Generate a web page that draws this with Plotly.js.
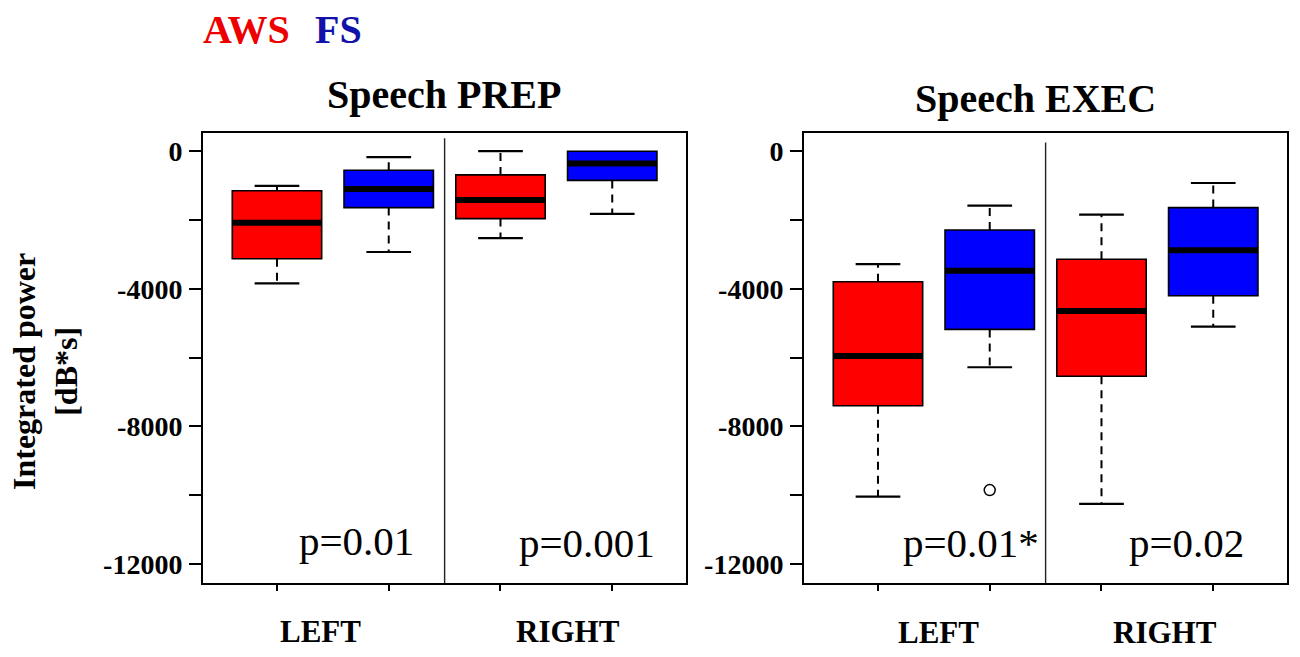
<!DOCTYPE html>
<html>
<head>
<meta charset="utf-8">
<script src="https://cdn.plot.ly/plotly-3.0.1.min.js"></script>
<style>
    html, body { margin: 0; padding: 0; background: #ffffff; }
    #chart { width: 1300px; height: 657px; }
</style>
</head>
<body>
<div id="chart"></div>
<script>
"use strict";

// positions on the x axis: LEFT AWS, LEFT FS, RIGHT AWS, RIGHT FS
var hemispheres = ["LEFT", "RIGHT"];
var awsPos = [0, 2];
var fsPos = [1, 3];

// Speech PREP
var prepAwsLower = [-3840, -2530];
var prepAwsQ1 = [-3125, -1960];
var prepAwsMedian = [-2080, -1420];
var prepAwsQ3 = [-1150, -690];
var prepAwsUpper = [-1010, 0];

var prepFsLower = [-2930, -1820];
var prepFsQ1 = [-1640, -850];
var prepFsMedian = [-1100, -360];
var prepFsQ3 = [-555, 0];
var prepFsUpper = [-170, 0];

// Speech EXEC
var execAwsLower = [-10040, -10250];
var execAwsQ1 = [-7400, -6540];
var execAwsMedian = [-5950, -4645];
var execAwsQ3 = [-3795, -3140];
var execAwsUpper = [-3280, -1845];

var execFsLower = [-6280, -5100];
var execFsQ1 = [-5180, -4200];
var execFsMedian = [-3475, -2880];
var execFsQ3 = [-2290, -1640];
var execFsUpper = [-1585, -925];

var execOutlierX = [1];
var execOutlierY = [-9850];

var prepPValues = ["p=0.01", "p=0.001"];
var execPValues = ["p=0.01*", "p=0.02"];

var yTickVals = [0, -2000, -4000, -6000, -8000, -10000, -12000];
var yTickText = ["0", "", "-4000", "", "-8000", "", "-12000"];

var awsColor = "#ff0000";
var fsColor = "#0000ff";
var boxHalf = 0.4;
var capHalf = 0.2;

// the box itself, whiskers are drawn separately because they are dashed
function BoxTrace(pos, q1, median, q3, color, xa, ya) {
    return {
        type: "box",
        x: pos,
        q1: q1,
        median: median,
        q3: q3,
        lowerfence: q1,
        upperfence: q3,
        width: boxHalf * 2,
        whiskerwidth: 0,
        fillcolor: color,
        line: { color: "#000000", width: 1.6 },
        xaxis: xa,
        yaxis: ya,
        hoverinfo: "skip",
        showlegend: false
    };
}

function WhiskerTraces(pos, lower, q1, q3, upper, xa, ya) {
    var wx = [], wy = [], cx = [], cy = [];
    for (var i = 0; i < pos.length; i++) {
        if (upper[i] > q3[i]) {
            wx.push(pos[i], pos[i], null);
            wy.push(q3[i], upper[i], null);
        }
        if (lower[i] < q1[i]) {
            wx.push(pos[i], pos[i], null);
            wy.push(q1[i], lower[i], null);
        }
        if (upper[i] > q3[i]) {
            cx.push(pos[i] - capHalf, pos[i] + capHalf, null);
            cy.push(upper[i], upper[i], null);
        }
        cx.push(pos[i] - capHalf, pos[i] + capHalf, null);
        cy.push(lower[i], lower[i], null);
    }
    return [
        {
            type: "scatter", mode: "lines", x: wx, y: wy, xaxis: xa, yaxis: ya,
            line: { color: "#000000", width: 2, dash: "8px,6px" },
            hoverinfo: "skip", showlegend: false
        },
        {
            type: "scatter", mode: "lines", x: cx, y: cy, xaxis: xa, yaxis: ya,
            line: { color: "#000000", width: 2.2 },
            hoverinfo: "skip", showlegend: false
        }
    ];
}

function MedianTrace(pos, median, xa, ya) {
    var mx = [], my = [];
    for (var i = 0; i < pos.length; i++) {
        mx.push(pos[i] - boxHalf, pos[i] + boxHalf, null);
        my.push(median[i], median[i], null);
    }
    return {
        type: "scatter", mode: "lines", x: mx, y: my, xaxis: xa, yaxis: ya,
        line: { color: "#000000", width: 6 },
        hoverinfo: "skip", showlegend: false
    };
}

var data = [];
data = data.concat(WhiskerTraces(awsPos, prepAwsLower, prepAwsQ1, prepAwsQ3, prepAwsUpper, "x", "y"));
data = data.concat(WhiskerTraces(fsPos, prepFsLower, prepFsQ1, prepFsQ3, prepFsUpper, "x", "y"));
data = data.concat(WhiskerTraces(awsPos, execAwsLower, execAwsQ1, execAwsQ3, execAwsUpper, "x2", "y2"));
data = data.concat(WhiskerTraces(fsPos, execFsLower, execFsQ1, execFsQ3, execFsUpper, "x2", "y2"));
data.push(BoxTrace(awsPos, prepAwsQ1, prepAwsMedian, prepAwsQ3, awsColor, "x", "y"));
data.push(BoxTrace(fsPos, prepFsQ1, prepFsMedian, prepFsQ3, fsColor, "x", "y"));
data.push(BoxTrace(awsPos, execAwsQ1, execAwsMedian, execAwsQ3, awsColor, "x2", "y2"));
data.push(BoxTrace(fsPos, execFsQ1, execFsMedian, execFsQ3, fsColor, "x2", "y2"));
data.push(MedianTrace(awsPos, prepAwsMedian, "x", "y"));
data.push(MedianTrace(fsPos, prepFsMedian, "x", "y"));
data.push(MedianTrace(awsPos, execAwsMedian, "x2", "y2"));
data.push(MedianTrace(fsPos, execFsMedian, "x2", "y2"));

// outlier of FS, left hemisphere, speech execution
data.push({
    type: "scatter", mode: "markers", x: execOutlierX, y: execOutlierY,
    xaxis: "x2", yaxis: "y2",
    marker: { symbol: "circle-open", size: 11, color: "#000000", line: { width: 1.5 } },
    hoverinfo: "skip", showlegend: false
});

var serif = "Liberation Serif, Times New Roman, serif";

function XAxis(domain) {
    return {
        domain: domain,
        range: [-0.662, 3.66],
        showline: true, linecolor: "#000000", linewidth: 2, mirror: true,
        tickvals: [0, 1, 2, 3], ticktext: ["", "", "", ""],
        ticks: "outside", ticklen: 6, tickwidth: 2, tickcolor: "#000000",
        showgrid: false, zeroline: false, fixedrange: true
    };
}

function YAxis(anchor) {
    return {
        anchor: anchor,
        domain: [0.1126, 0.7976],
        range: [-12552, 529],
        showline: true, linecolor: "#000000", linewidth: 2, mirror: true,
        tickvals: yTickVals, ticktext: yTickText,
        ticks: "outside", ticklen: 12, tickwidth: 2, tickcolor: "#000000",
        ticklabelstandoff: 1,
        tickfont: { family: serif, size: 28, color: "#000000", weight: "bold" },
        showgrid: false, zeroline: false, fixedrange: true
    };
}

function Label(text, x, y, size, color, bold) {
    return {
        text: text, xref: "paper", yref: "paper",
        x: x / 1300, y: 1 - y / 657, xanchor: "center", yanchor: "middle",
        showarrow: false,
        font: { family: serif, size: size, color: color, weight: bold ? "bold" : "normal" }
    };
}

var annotations = [
    Label("AWS", 246, 29, 40, "#ee0000", true),
    Label("FS", 338, 29, 40, "#1212aa", true),
    Label("Speech PREP", 444, 94, 40, "#000000", true),
    Label("Speech EXEC", 1035, 98, 40, "#000000", true),
    Label(prepPValues[0], 356, 541, 41, "#000000", false),
    Label(prepPValues[1], 587, 543, 41, "#000000", false),
    Label(execPValues[0], 971, 543, 41, "#000000", false),
    Label(execPValues[1], 1186, 543, 41, "#000000", false),
    Label(hemispheres[0], 320, 631, 31, "#000000", true),
    Label(hemispheres[1], 568, 631, 31, "#000000", true),
    Label(hemispheres[0], 938, 632, 31, "#000000", true),
    Label(hemispheres[1], 1165, 632, 31, "#000000", true)
];

// y axis title, two lines, rotated
var yTitle = Label("Integrated power<br>[dB*s]", 45, 372, 32, "#000000", true);
yTitle.textangle = -90;
annotations.push(yTitle);

var layout = {
    width: 1300,
    height: 657,
    margin: { l: 0, r: 0, t: 0, b: 0 },
    paper_bgcolor: "#ffffff",
    plot_bgcolor: "#ffffff",
    showlegend: false,
    xaxis: XAxis([203 / 1300, 686 / 1300]),
    yaxis: YAxis("x"),
    xaxis2: XAxis([804 / 1300, 1287 / 1300]),
    yaxis2: YAxis("x2"),
    annotations: annotations,
    shapes: [
        // thin divider between LEFT and RIGHT
        { type: "line", xref: "x", yref: "y", x0: 1.5, x1: 1.5, y0: -12552, y1: 375,
          line: { color: "#222222", width: 1.4 } },
        { type: "line", xref: "x2", yref: "y2", x0: 1.5, x1: 1.5, y0: -12552, y1: 250,
          line: { color: "#222222", width: 1.4 } }
    ]
};

Plotly.newPlot("chart", data, layout, { staticPlot: true, displayModeBar: false });
</script>
</body>
</html>
